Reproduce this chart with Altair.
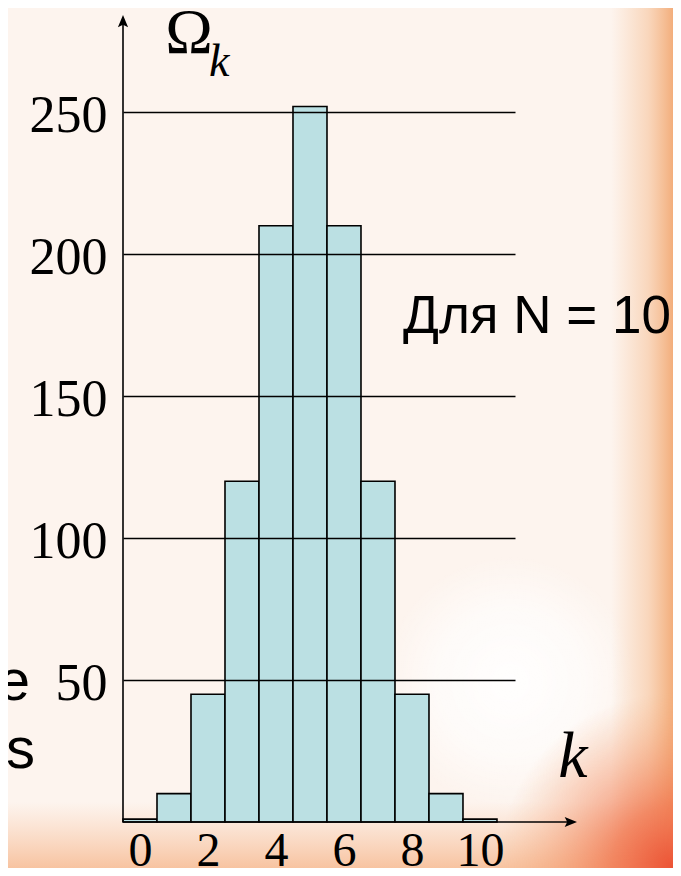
import altair as alt
import pandas as pd

# data
k_values = [0, 1, 2, 3, 4, 5, 6, 7, 8, 9, 10]
omega_values = [1, 10, 45, 120, 210, 252, 210, 120, 45, 10, 1]
x_tick_labels = [0, 2, 4, 6, 8, 10]
y_tick_labels = [50, 100, 150, 200, 250]

bars = pd.DataFrame({"k": k_values, "omega": omega_values})
one = pd.DataFrame({"d": [0]})

SERIF = "Liberation Serif"
SANS = "Liberation Sans"

xscale = alt.Scale(domain=[-0.5, 11.03], nice=False, zero=False)
yscale = alt.Scale(domain=[0, 280], nice=False)

# ---- background tints ----
white_blob = alt.Chart(one).mark_rect(
    fill={"gradient": "radial", "x1": 0.5, "y1": 0.5, "r1": 0, "x2": 0.5, "y2": 0.5, "r2": 0.5,
          "stops": [{"offset": 0, "color": "rgba(255,255,255,0.95)"},
                    {"offset": 0.6, "color": "rgba(255,255,255,0.6)"},
                    {"offset": 1, "color": "rgba(255,255,255,0)"}]}
).encode(x=alt.value(262), x2=alt.value(512), y=alt.value(530), y2=alt.value(780))

right_strip = alt.Chart(one).mark_rect(
    fill={"gradient": "linear", "x1": 0, "y1": 0, "x2": 1, "y2": 0,
          "stops": [{"offset": 0, "color": "rgba(246,190,145,0)"},
                    {"offset": 0.6, "color": "rgba(245,185,138,0.5)"},
                    {"offset": 1, "color": "#F3AE7C"}]}
).encode(x=alt.value(488), x2=alt.value(550), y=alt.value(-19), y2=alt.value(841))

bottom_strip = alt.Chart(one).mark_rect(
    fill={"gradient": "linear", "x1": 0, "y1": 0, "x2": 0, "y2": 1,
          "stops": [{"offset": 0, "color": "rgba(248,200,168,0)"},
                    {"offset": 1, "color": "rgba(247,190,152,0.9)"}]}
).encode(x=alt.value(-115), x2=alt.value(550), y=alt.value(775), y2=alt.value(841))

corner = alt.Chart(one).mark_rect(
    fill={"gradient": "radial", "x1": 1, "y1": 1, "r1": 0, "x2": 1, "y2": 1, "r2": 1,
          "stops": [{"offset": 0, "color": "#EC5234"},
                    {"offset": 0.35, "color": "rgba(240,112,72,0.75)"},
                    {"offset": 1, "color": "rgba(244,170,120,0)"}]}
).encode(x=alt.value(375), x2=alt.value(550), y=alt.value(666), y2=alt.value(841))

# ---- bars + axes ----
bar_layer = alt.Chart(bars).transform_calculate(
    x0="datum.k - 0.5", x1="datum.k + 0.5"
).mark_rect(fill="#BBE0E3", stroke="black", strokeWidth=1.6).encode(
    x=alt.X("x0:Q", scale=xscale, title=None,
            axis=alt.Axis(values=x_tick_labels, domain=False, ticks=False, grid=False,
                          labelFont=SERIF, labelFontSize=48, labelColor="black",
                          labelPadding=5, labelOverlap=False, labelBound=False,
                          labelFlush=False, zindex=1)),
    x2="x1:Q",
    y=alt.Y("omega:Q", scale=yscale, title=None,
            axis=alt.Axis(values=y_tick_labels, domain=False, ticks=False, grid=True,
                          gridColor="black", gridWidth=1.5, gridOpacity=1,
                          labelFont=SERIF, labelFontSize=52, labelColor="black",
                          labelPadding=16, labelOffset=3, labelOverlap=False,
                          labelBound=False, labelFlush=False, zindex=1)),
    y2=alt.datum(0),
)

# ---- axis lines with arrows ----
y_line = alt.Chart(one).mark_rule(color="black", strokeWidth=1.6).encode(
    x=alt.value(0), y=alt.value(795), y2=alt.value(-6))
x_line = alt.Chart(one).mark_rule(color="black", strokeWidth=1.6).encode(
    x=alt.value(0), x2=alt.value(448), y=alt.value(795))

up_arrow = alt.Chart(one).mark_point(
    shape="M0,-1L0.6,0.45L0,0.15L-0.6,0.45Z", filled=True, color="black",
    opacity=1, size=289).encode(x=alt.value(0), y=alt.value(-3.5))
right_arrow = alt.Chart(one).mark_point(
    shape="M1,0L-0.45,0.6L-0.15,0L-0.45,-0.6Z", filled=True, color="black",
    opacity=1, size=289).encode(x=alt.value(445.5), y=alt.value(795))

# ---- texts ----
def label(txt, x, y, font, size, style="normal", align="left"):
    return alt.Chart(one).mark_text(
        text=txt, font=font, fontSize=size, fontStyle=style, align=align,
        baseline="alphabetic", color="black").encode(x=alt.value(x), y=alt.value(y))

omega_t = label("Ω", 66, 26, SERIF, 64, align="center")
omega_k = label("k", 86, 49, SERIF, 46, style="italic")
axis_k = label("k", 450, 750, SERIF, 66, style="italic", align="center")
note = label("Для N = 10", 280, 306, SANS, 53)
frag_e = label("е", -93, 673, SANS, 58, align="right")
frag_es = label("es", -88, 741, SANS, 58, align="right")

chart = alt.layer(
    white_blob, right_strip, bottom_strip, corner,
    bar_layer, y_line, x_line, up_arrow, right_arrow,
    omega_t, omega_k, axis_k, note, frag_e, frag_es,
).properties(
    width=392, height=795,
    autosize=alt.AutoSizeParams(type="none"),
    padding={"left": 115, "top": 19, "right": 158, "bottom": 46},
    background="#FDF4EE",
).configure_view(stroke=None)

chart.save("out.html", embed_options={"renderer": "svg", "actions": False})
